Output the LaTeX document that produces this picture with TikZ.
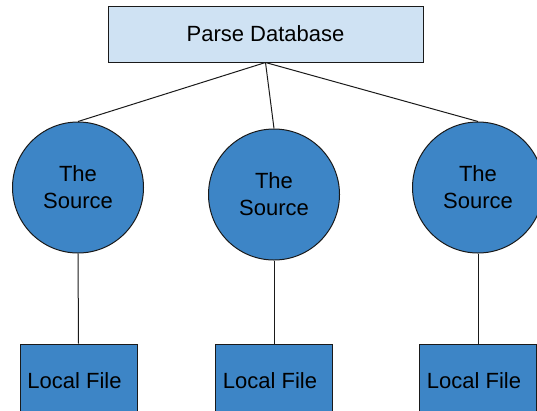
\documentclass[tikz,border=0pt]{standalone}
\usepackage{fontspec}
\setmainfont{Liberation Sans}
\definecolor{lightblue}{HTML}{CFE2F3}
\definecolor{midblue}{HTML}{3D85C6}
\definecolor{edge}{HTML}{1A1A1A}
\begin{document}
\begin{tikzpicture}[x=1pt,y=-1pt,
  every node/.style={font=\fontsize{22}{27}\selectfont, text=black, inner sep=0pt},
  dbbox/.style={draw=edge, line width=1pt, fill=lightblue, minimum width=315pt, minimum height=56pt},
  srcnode/.style={circle, draw=edge, line width=1pt, fill=midblue, minimum size=131pt, align=center},
  filebox/.style={draw=edge, line width=1pt, fill=midblue, minimum width=117pt, minimum height=74pt},
  link/.style={draw=edge, line width=1pt}]
\useasboundingbox (0,0) rectangle (537,410);
\clip (0,0) rectangle (537,410);
\node[dbbox] (db) at (265.5,34) {Parse Database};
\node[srcnode] (s1) at (78,187.5) {The\\Source};
\node[srcnode] (s2) at (274,194.5) {The\\Source};
\node[srcnode] (s3) at (478,187.5) {The\\Source};
\node[filebox] (f1) at (78.5,381) {\kern-8pt Local File};
\node[filebox] (f2) at (274,381) {\kern-8pt Local File};
\node[filebox] (f3) at (478,381) {\kern-8pt Local File};
\draw[link] (db.south) -- (s1.north);
\draw[link] (db.south) -- (s2.north);
\draw[link] (db.south) -- (s3.north);
\draw[link] (s1.south) -- (f1.north);
\draw[link] (s2.south) -- (f2.north);
\draw[link] (s3.south) -- (f3.north);
\end{tikzpicture}
\end{document}
